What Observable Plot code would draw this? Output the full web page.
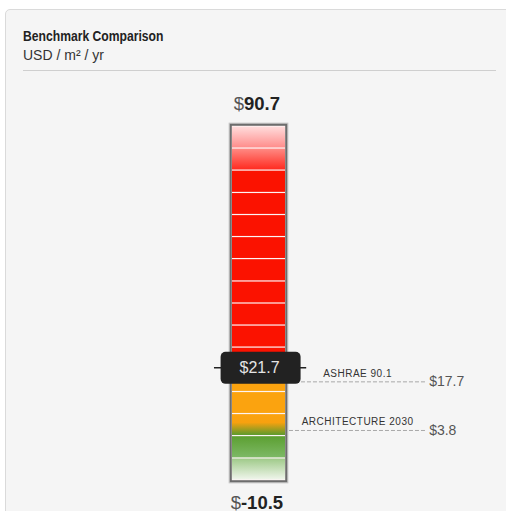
<!DOCTYPE html>
<html><head><meta charset="utf-8">
<script src="https://cdn.jsdelivr.net/npm/d3@7"></script>
<script src="https://cdn.jsdelivr.net/npm/@observablehq/plot@0.6"></script>
<style>
html,body{margin:0;padding:0;background:#fff;width:506px;height:511px;overflow:hidden;position:relative;}
#panel{position:absolute;left:5px;top:9px;width:560px;height:560px;background:#f5f5f5;border:1px solid #dadada;border-radius:5px;box-sizing:border-box;}
#title{position:absolute;left:23px;top:29px;font:bold 15px/14px "Liberation Sans",Arial,sans-serif;color:#222;white-space:nowrap;transform:scaleX(0.81);transform-origin:0 0;}
#subtitle{position:absolute;left:23px;top:48px;font:14px/14px "Liberation Sans",Arial,sans-serif;color:#333;white-space:nowrap;}
#hr{position:absolute;left:23px;top:70px;width:473px;height:1px;background:#cfcfcf;}
#chart{position:absolute;left:0;top:0;}
</style></head>
<body>
<div id="panel"></div>
<div id="title">Benchmark Comparison</div>
<div id="subtitle">USD / m² / yr</div>
<div id="hr"></div>
<div id="chart"></div>
<script>
// ---- data ----
const scaleMin = -10.5;
const scaleMax = 90.7;
const currentValue = 21.7;
const segmentBounds = [-10.5, -4.2, 2.2, 8.5, 14.8, 21.1, 27.5, 33.8, 40.1, 46.4, 52.8, 59.1, 65.4, 71.7, 78.1, 84.4, 90.7];
const segmentTones = ["mint", "green", "blend", "orange", "orange", "red", "red", "red", "red", "red", "red", "red", "red", "red", "rose", "blush"];
const benchmarkNames = ["ASHRAE 90.1", "ARCHITECTURE 2030"];
const benchmarkValues = [17.7, 3.8];

// ---- derived tables ----
const segments = segmentTones.map((tone, i) => ({lo: segmentBounds[i], hi: segmentBounds[i + 1], tone}));
const benchmarks = benchmarkNames.map((name, i) => ({name, value: benchmarkValues[i]}));

const toneFill = {
  mint: "url(#gMint)", green: "url(#gGreen)", blend: "url(#gBlend)",
  orange: "#fba30f", red: "#fb1200", rose: "url(#gRose)", blush: "url(#gBlush)"
};

// rounded-rect symbol for the value marker
const pill = {
  draw(ctx) {
    const w = 80, h = 32, r = 5, x0 = -w / 2, y0 = -h / 2, x1 = w / 2, y1 = h / 2;
    ctx.moveTo(x0 + r, y0);
    ctx.lineTo(x1 - r, y0); ctx.arcTo(x1, y0, x1, y0 + r, r);
    ctx.lineTo(x1, y1 - r); ctx.arcTo(x1, y1, x1 - r, y1, r);
    ctx.lineTo(x0 + r, y1); ctx.arcTo(x0, y1, x0, y1 - r, r);
    ctx.lineTo(x0, y0 + r); ctx.arcTo(x0, y0, x0 + r, y0, r);
    ctx.closePath();
  }
};

const frameData = [{lo: scaleMin, hi: scaleMax}];
const money = v => "$" + v;

const chart = Plot.plot({
  width: 506,
  height: 511,
  marginTop: 126,
  marginBottom: 31,
  marginLeft: 232,
  marginRight: 221,
  x: {domain: [0, 1], axis: null},
  y: {domain: [scaleMin, scaleMax], axis: null},
  color: {type: "identity"},
  style: {background: "transparent", overflow: "visible", fontFamily: "'Liberation Sans', Arial, sans-serif"},
  marks: [
    // outer halo + border
    Plot.rect(frameData, {x1: 0, x2: 1, y1: "lo", y2: "hi", fill: "#ffffff", stroke: "#c6c6c6", strokeWidth: 1.5, inset: -2.6}),
    Plot.rect(frameData, {x1: 0, x2: 1, y1: "lo", y2: "hi", fill: "#fdf4f4", stroke: "#6d6d6d", strokeWidth: 2, inset: -1.2}),
    // segments
    Plot.rect(segments, {x1: 0, x2: 1, y1: "lo", y2: "hi", fill: d => toneFill[d.tone], insetTop: 0.6, insetBottom: 0.6}),
    // benchmark dashed lines
    Plot.ruleY(benchmarks, {y: "value", x1: 1.075, x2: 3.66, stroke: "#a8a8a8", strokeWidth: 1, strokeDasharray: "4,2"}),
    Plot.text(benchmarks, {y: "value", x: 2.36, text: "name", lineAnchor: "bottom", dy: -5, fontSize: 10, fill: "#333"}),
    Plot.text(benchmarks, {y: "value", x: 3.71, text: d => money(d.value), textAnchor: "start", fontSize: 14, fill: "#555"}),
    // current value marker
    Plot.ruleY([currentValue], {y: d => d, x1: -0.34, x2: 1.4, stroke: "#222", strokeWidth: 1.5}),
    Plot.dot([currentValue], {x: 0.53, y: d => d, symbol: pill, r: 10, fill: "#222", stroke: "none"}),
    Plot.text([currentValue], {x: 0.51, y: d => d, text: money, fontSize: 16, fill: "#e4e4e4"}),
    // scale extremes
    Plot.text([scaleMax], {x: 0.46, y: d => d, text: money, lineAnchor: "bottom", dy: -17, fontSize: 18.5, fontWeight: "bold", fill: "#222"}),
    Plot.text([scaleMin], {x: 0.46, y: d => d, text: money, lineAnchor: "bottom", dy: 28, fontSize: 18.5, fontWeight: "bold", fill: "#222"})
  ]
});

// gradient definitions
const svg = d3.select(chart);
const defs = svg.insert("defs", ":first-child");
function grad(id, stops) {
  const g = defs.append("linearGradient").attr("id", id).attr("x1", 0).attr("y1", 0).attr("x2", 0).attr("y2", 1);
  stops.forEach(([o, c]) => g.append("stop").attr("offset", o).attr("stop-color", c));
}
grad("gMint", [[0, "#9fca89"], [1, "#eff5eb"]]);
grad("gGreen", [[0, "#5c9f31"], [1, "#7db966"]]);
grad("gBlend", [[0, "#fba30f"], [0.4, "#f8a10f"], [1, "#5b9a2c"]]);
grad("gRose", [[0, "#ff8a84"], [1, "#ff2b20"]]);
grad("gBlush", [[0, "#ffdcdc"], [1, "#ff8d8b"]]);

// letter spacing for benchmark names
const nameSet = new Set(benchmarkNames);
svg.selectAll("text").filter(function() { return nameSet.has(this.textContent); })
  .style("letter-spacing", "0.5px");
// "$" prefix in lighter weight on the scale extremes
const extSet = new Set([money(scaleMax), money(scaleMin)]);
svg.selectAll("text").filter(function() { return extSet.has(this.textContent); }).each(function() {
  const t = d3.select(this);
  const s = t.text();
  t.text(null);
  t.append("tspan").attr("font-weight", "normal").attr("fill", "#555").text(s.slice(0, 1));
  t.append("tspan").text(s.slice(1));
});

document.getElementById("chart").appendChild(chart);
</script>
</body></html>
